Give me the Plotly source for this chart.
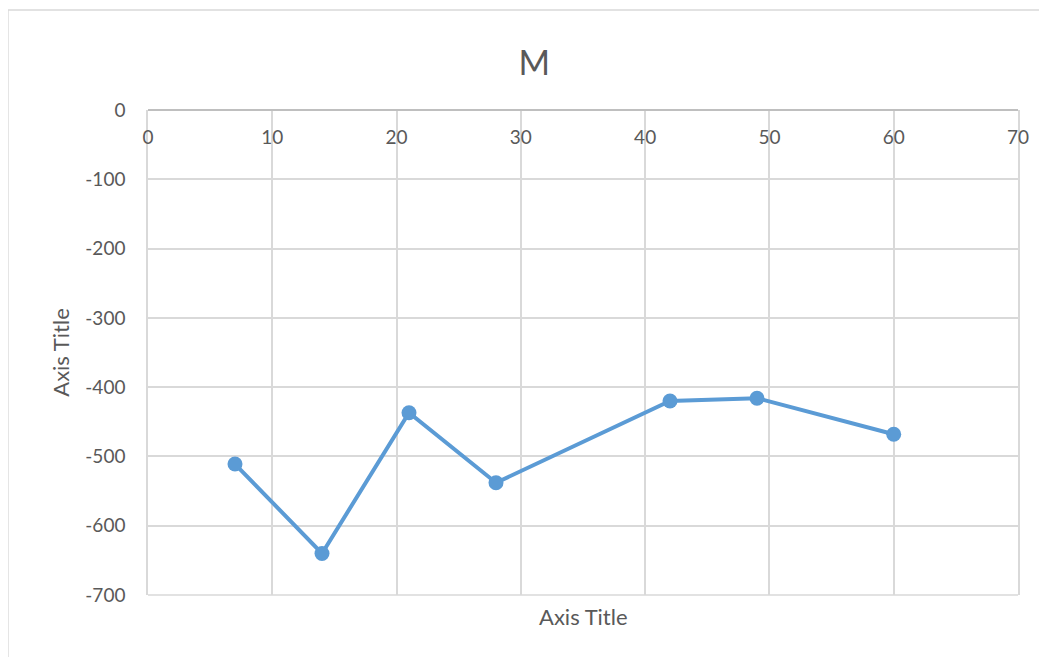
import plotly.graph_objects as go

# data
days = [7, 14, 21, 28, 42, 49, 60]
m_values = [-511, -640, -437, -538, -420, -416, -468]

x_ticks = [0, 10, 20, 30, 40, 50, 60, 70]
y_ticks = [0, -100, -200, -300, -400, -500, -600, -700]

font_name = "Lato"
grey_text = "#595959"
grid_col = "#D9D9D9"

fig = go.Figure()

fig.add_trace(go.Scatter(
    x=days,
    y=m_values,
    mode="lines+markers",
    line=dict(color="#5B9BD5", width=4),
    marker=dict(color="#5B9BD5", size=15),
    showlegend=False))

# the page body adds 8px, so margins are shifted by that
fig.update_layout(
    width=1047,
    height=657,
    margin=dict(l=140, r=37, t=102, b=70, autoexpand=False),
    paper_bgcolor="white",
    plot_bgcolor="white",
    font=dict(family=font_name, color=grey_text, size=19),
    title=dict(text="M", x=0.444, xref="paper", xanchor="center", y=0.916, yanchor="middle",
               font=dict(size=34, color=grey_text)),
    xaxis=dict(
        range=[0, 70],
        tickvals=x_ticks,
        ticktext=[str(v) for v in x_ticks],
        anchor="free",
        position=1,
        side="bottom",
        automargin=False,
        ticklabelstandoff=10,
        showgrid=True,
        gridcolor=grid_col,
        gridwidth=1.5,
        zeroline=False,
        showline=True,
        linecolor="#BFBFBF",
        linewidth=1.5,
        ticks="",
        tickfont=dict(size=19, color=grey_text),
    ),
    yaxis=dict(
        range=[-700, 0],
        tickvals=y_ticks,
        ticktext=[str(v) for v in y_ticks],
        automargin=False,
        showgrid=True,
        gridcolor=grid_col,
        gridwidth=1.5,
        zeroline=False,
        showline=True,
        linecolor=grid_col,
        linewidth=1.5,
        mirror=True,
        ticks="",
        ticklabelstandoff=17,
        tickfont=dict(size=19, color=grey_text),
        title=dict(text="Axis Title", font=dict(size=22, color=grey_text), standoff=10),
    ),
)

# x axis title sits below the plot, like Excel
fig.add_annotation(text="Axis Title", x=0.5, xref="paper", y=-0.045, yref="paper",
                   yanchor="middle", showarrow=False, font=dict(size=22, color=grey_text))

# bottom edge of the plot box
fig.add_shape(type="line", xref="paper", yref="paper", x0=0, x1=1, y0=0, y1=0,
              line=dict(color=grid_col, width=1.5), layer="below")

# chart frame
fig.add_shape(type="rect", xref="paper", yref="paper",
              x0=-0.161, x1=1.06, y0=-0.2, y1=1.206,
              line=dict(color="#D9D9D9", width=1.5), layer="below")

fig.write_html("out.html")
